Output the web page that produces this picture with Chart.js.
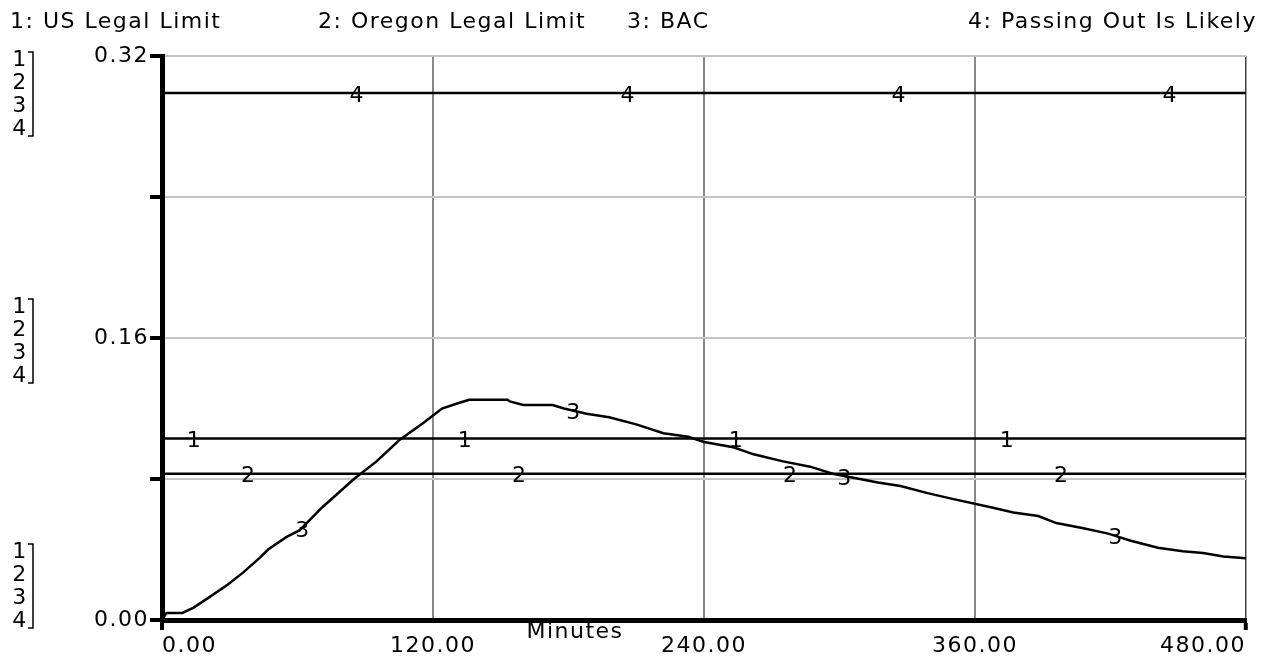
<!DOCTYPE html>
<html>
<head>
<meta charset="utf-8">
<script src="https://cdn.jsdelivr.net/npm/chart.js@4.4.1/dist/chart.umd.min.js"></script>
<style>
  html, body { margin: 0; padding: 0; background: #fff; }
  #wrap { width: 1267px; height: 660px; }
</style>
</head>
<body>
<div id="wrap"><canvas id="bacChart"></canvas></div>
<script>
// BAC over the evening
const minutes = [0, 2, 9, 14, 21, 29, 36, 43, 47, 55, 61, 71, 85, 95, 105, 116, 119, 124, 131, 136,
  153, 154, 160, 173, 178, 188, 198, 210, 222, 233, 240, 253, 262, 275, 287, 297, 305, 317, 327,
  339, 349, 367, 377, 388, 396, 408, 419, 429, 441, 452, 461, 470, 480];
const bac = [0, 0.004, 0.004, 0.007, 0.013, 0.020, 0.027, 0.035, 0.040, 0.047, 0.051, 0.064, 0.080,
  0.090, 0.102, 0.112, 0.115, 0.120, 0.123, 0.125, 0.125, 0.124, 0.122, 0.122, 0.120, 0.117, 0.115,
  0.111, 0.106, 0.104, 0.101, 0.098, 0.094, 0.090, 0.087, 0.083, 0.081, 0.078, 0.076, 0.072, 0.069,
  0.064, 0.061, 0.059, 0.055, 0.052, 0.049, 0.045, 0.041, 0.039, 0.038, 0.036, 0.035];

// constant levels
const usLimit = 0.103;
const oregonLimit = 0.083;
const passOutLevel = 0.299;

const seriesNames = ['US Legal Limit', 'Oregon Legal Limit', 'BAC', 'Passing Out Is Likely'];
const xTicks = [0, 120, 240, 360, 480];
const yTicks = [0, 0.08, 0.16, 0.24, 0.32];
const yLabelIdx = [0, 2, 4];

const FONT = '22px "DejaVu Sans"';
const SPACING = '1.5px';

function flat(v) {
  return [{ x: xTicks[0], y: v }, { x: xTicks[xTicks.length - 1], y: v }];
}

function bacAt(t) {
  for (let i = 1; i < minutes.length; i++) {
    if (t <= minutes[i]) {
      const f = (t - minutes[i - 1]) / (minutes[i] - minutes[i - 1]);
      return bac[i - 1] + f * (bac[i] - bac[i - 1]);
    }
  }
  return bac[bac.length - 1];
}

// stella style extras: numbered lines, legend, side keys
const stellaDecor = {
  id: 'stellaDecor',
  beforeUpdate(chart) { chart.ctx.letterSpacing = SPACING; },
  beforeDraw(chart) { chart.ctx.letterSpacing = SPACING; },
  afterDatasetsDraw(chart) {
    const ctx = chart.ctx;
    const xs = chart.scales.x, ys = chart.scales.y;
    const levels = [usLimit, oregonLimit, null, passOutLevel];
    ctx.save();
    ctx.font = FONT;
    ctx.fillStyle = '#000';
    ctx.textAlign = 'center';
    ctx.textBaseline = 'middle';
    for (let s = 0; s < 4; s++) {
      for (let k = 0; k < 4; k++) {
        const t = 14 + 24 * s + 120 * k;
        const v = levels[s] === null ? bacAt(t) : levels[s];
        ctx.fillText(String(s + 1), xs.getPixelForValue(t) + 1, ys.getPixelForValue(v) + 3);
      }
    }
    ctx.restore();
  },
  afterDraw(chart) {
    const ctx = chart.ctx;
    ctx.save();
    ctx.font = FONT;
    ctx.fillStyle = '#000';
    ctx.textBaseline = 'middle';

    // legend row
    const legendX = [10, 318, 627];
    seriesNames.slice(0, 3).forEach((n, i) => ctx.fillText((i + 1) + ': ' + n, legendX[i], 22));
    ctx.textAlign = 'right';
    ctx.fillText('4: ' + seriesNames[3], 1257, 22);

    // axis title
    ctx.textAlign = 'center';
    ctx.fillText('Minutes', 575, 632);

    // bracketed keys on the left
    const groups = [60, 307, 552];
    ctx.strokeStyle = '#000';
    ctx.lineWidth = 1.5;
    groups.forEach(g => {
      for (let k = 0; k < 4; k++) ctx.fillText(String(k + 1), 20, g + 23 * k);
      const top = g - 8, bot = g + 69 + 7;
      ctx.beginPath();
      ctx.moveTo(28, top); ctx.lineTo(33, top); ctx.lineTo(33, bot); ctx.lineTo(28, bot);
      ctx.stroke();
    });
    ctx.restore();
  }
};

const ctx = document.getElementById('bacChart').getContext('2d');
new Chart(ctx, {
  type: 'line',
  data: {
    datasets: [
      { label: seriesNames[0], data: flat(usLimit) },
      { label: seriesNames[1], data: flat(oregonLimit) },
      { label: seriesNames[2], data: minutes.map((m, i) => ({ x: m, y: bac[i] })) },
      { label: seriesNames[3], data: flat(passOutLevel) }
    ]
  },
  options: {
    responsive: true,
    maintainAspectRatio: false,
    animation: false,
    layout: { padding: { top: 56, right: 21, left: 0, bottom: 0 } },
    elements: {
      line: { borderColor: '#000', borderWidth: 2.5, tension: 0 },
      point: { radius: 0 }
    },
    plugins: { legend: { display: false }, tooltip: { enabled: false } },
    scales: {
      x: {
        type: 'linear',
        min: 0,
        max: 480,
        afterBuildTicks: s => { s.ticks = xTicks.map(v => ({ value: v })); },
        afterFit: s => { s.height = 40; s.paddingLeft = 0; s.paddingRight = 0; },
        border: { color: '#000', width: 5 },
        grid: {
          color: c => c.index === 0 ? 'rgba(0,0,0,0)' : (c.index === 4 ? '#444' : '#888'),
          lineWidth: c => c.index === 4 ? 1.5 : 2,
          tickColor: c => (c.index === 0 || c.index === 4) ? '#000' : 'rgba(0,0,0,0)',
          tickLength: 10,
          tickWidth: 4
        },
        ticks: {
          color: '#000',
          font: { family: 'DejaVu Sans', size: 22 },
          padding: 3,
          align: 'inner',
          maxRotation: 0,
          autoSkip: false,
          callback: v => v.toFixed(2)
        }
      },
      y: {
        min: 0,
        max: 0.32,
        afterBuildTicks: s => { s.ticks = yTicks.map(v => ({ value: v })); },
        afterFit: s => { s.width = 162; s.paddingTop = 0; s.paddingBottom = 0; },
        border: { color: '#000', width: 5 },
        grid: {
          color: c => c.index === 0 ? 'rgba(0,0,0,0)' : '#c4c4c4',
          lineWidth: 2,
          tickColor: '#000',
          tickLength: 12,
          tickWidth: 4
        },
        ticks: {
          color: '#000',
          font: { family: 'DejaVu Sans', size: 22 },
          padding: 1,
          autoSkip: false,
          callback: (v, i) => yLabelIdx.includes(i) ? yTicks[i].toFixed(2) : ''
        }
      }
    }
  },
  plugins: [stellaDecor]
});
</script>
</body>
</html>
